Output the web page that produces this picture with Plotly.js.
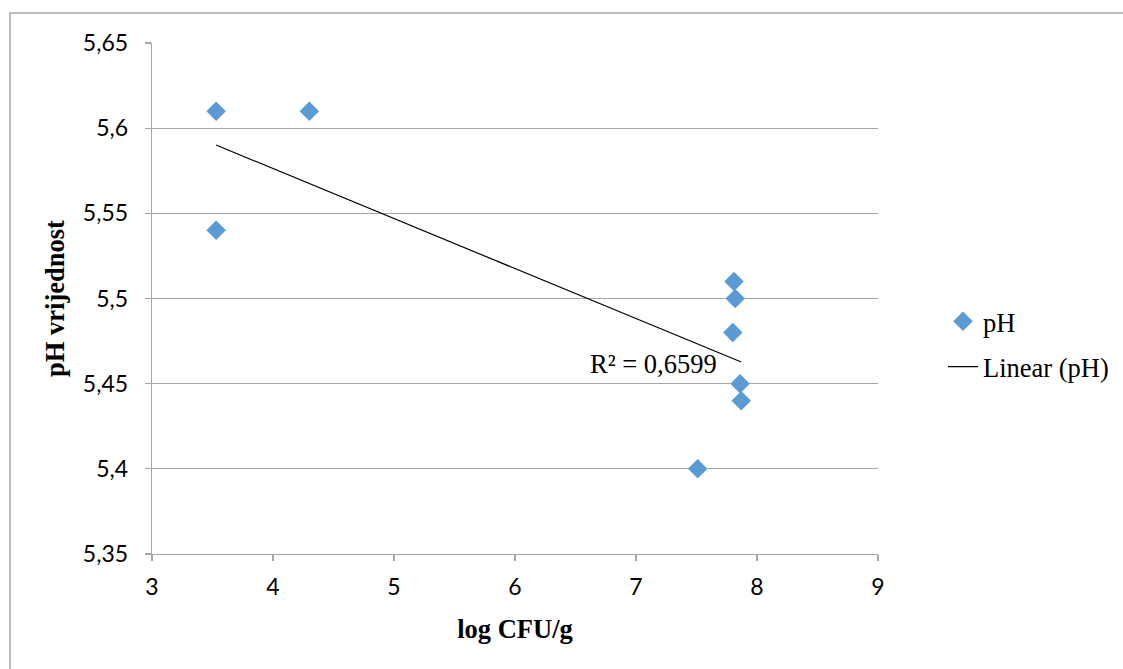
<!DOCTYPE html>
<html>
<head>
<meta charset="utf-8">
<script src="https://cdn.plot.ly/plotly-3.0.1.min.js"></script>
<style>html,body{margin:0;padding:0;background:#fff;}#chart{width:1123px;height:669px;}</style>
</head>
<body>
<div id="chart"></div>
<script>
// Data
const logCFU = [3.53, 4.30, 3.53, 7.81, 7.82, 7.80, 7.86, 7.87, 7.51];
const pH     = [5.61, 5.61, 5.54, 5.51, 5.50, 5.48, 5.45, 5.44, 5.40];
const yTicks = [5.35, 5.4, 5.45, 5.5, 5.55, 5.6, 5.65];
const yTickLabels = ['5,35', '5,4', '5,45', '5,5', '5,55', '5,6', '5,65'];
const xTicks = [3, 4, 5, 6, 7, 8, 9];
const r2Label = 'R² = 0,6599';

// least-squares linear trend from the data
const n = logCFU.length;
const mx = logCFU.reduce((a, b) => a + b, 0) / n;
const my = pH.reduce((a, b) => a + b, 0) / n;
let sxy = 0, sxx = 0;
for (let i = 0; i < n; i++) { sxy += (logCFU[i] - mx) * (pH[i] - my); sxx += (logCFU[i] - mx) ** 2; }
const slope = sxy / sxx, icpt = my - slope * mx;
const xmin = Math.min(...logCFU), xmax = Math.max(...logCFU);
const trendX = [xmin, xmax];
const trendY = trendX.map(x => icpt + slope * x);

const serif = 'Liberation Serif, Times New Roman, serif';
const sans = 'Lato, Carlito, Calibri, sans-serif';

const traces = [
  {
    x: logCFU, y: pH, mode: 'markers', type: 'scatter', name: 'pH', legendgroup: 'a',
    marker: {symbol: 'diamond', size: 15, color: '#5b9bd5', line: {width: 0}}
  },
  {
    x: trendX, y: trendY, mode: 'lines', type: 'scatter', name: 'Linear (pH)', legendgroup: 'b',
    line: {color: '#000000', width: 1.2}
  }
];

const layout = {
  width: 1123, height: 669,
  margin: {l: 152, r: 245, t: 43, b: 115, autoexpand: false},
  paper_bgcolor: '#ffffff', plot_bgcolor: '#ffffff',
  showlegend: true,
  legend: {xref: 'container', yref: 'container', x: 943 / 1123, xanchor: 'left',
           y: 1 - 344 / 669, yanchor: 'middle', bgcolor: 'rgba(0,0,0,0)',
           font: {family: serif, size: 26.5, color: '#000'}, tracegroupgap: 8},
  xaxis: {
    range: [3, 9], tickvals: xTicks, ticktext: xTicks.map(String), automargin: false,
    showgrid: false, zeroline: false, showline: true, linecolor: '#a6a6a6', linewidth: 1.3,
    ticks: 'outside', ticklen: 6, tickcolor: '#a6a6a6', tickwidth: 1.3, ticklabelstandoff: 6,
    tickfont: {family: sans, size: 23, color: '#000'},
    title: {text: '<b>log CFU/g</b>', font: {family: serif, size: 26.5, color: '#000'}, standoff: 20}
  },
  yaxis: {
    range: [5.35, 5.65], tickvals: yTicks, ticktext: yTickLabels, automargin: false,
    showgrid: true, gridcolor: '#a6a6a6', gridwidth: 1.3, zeroline: false,
    showline: true, linecolor: '#a6a6a6', linewidth: 1.3,
    ticks: 'outside', ticklen: 6, tickcolor: '#a6a6a6', tickwidth: 1.3, ticklabelstandoff: 12,
    tickfont: {family: sans, size: 23, color: '#000'},
    title: {text: '<b>pH vrijednost</b>', font: {family: serif, size: 26.5, color: '#000'}, standoff: 10}
  },
  annotations: [{
    xref: 'x', yref: 'y', x: 7.69, y: 5.4615, xanchor: 'right', yanchor: 'middle',
    text: r2Label, showarrow: false, font: {family: serif, size: 26.5, color: '#000'}
  }],
  shapes: [{
    type: 'rect', xref: 'paper', yref: 'paper',
    x0: -142 / 726, x1: 1.5, y0: -0.5, y1: 1 + 30 / 511,
    line: {color: '#a6a6a6', width: 1.5}, fillcolor: 'rgba(0,0,0,0)', layer: 'below'
  }]
};

Plotly.newPlot('chart', traces, layout, {displayModeBar: false, staticPlot: true});
</script>
</body>
</html>
